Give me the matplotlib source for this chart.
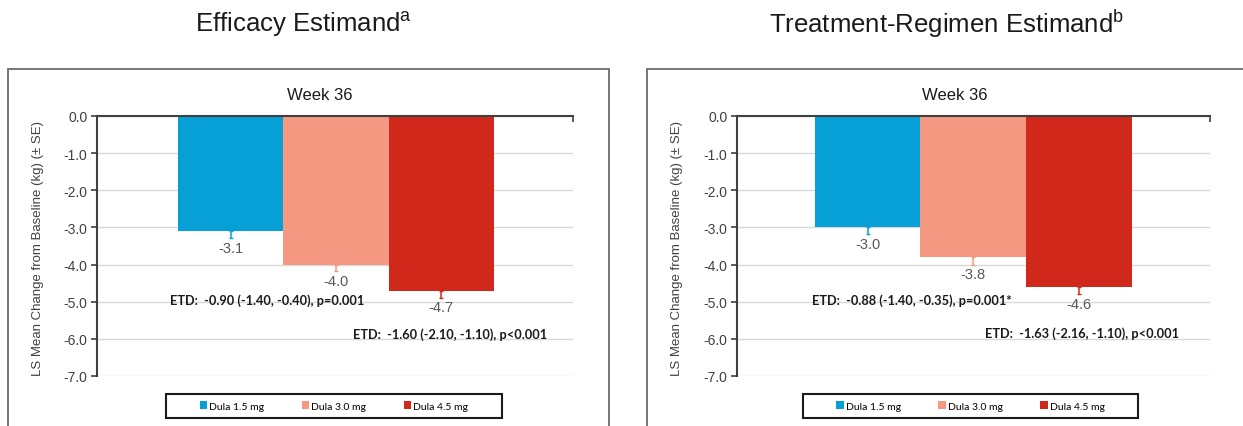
import matplotlib
matplotlib.use("Agg")
import matplotlib.pyplot as plt
from matplotlib.patches import Rectangle, Patch

plt.rcParams['font.family'] = ['Liberation Sans', 'DejaVu Sans']

# data
estimands = ["Efficacy Estimand", "Treatment-Regimen Estimand"]
superscripts = ["a", "b"]
doses = ["Dula 1.5 mg", "Dula 3.0 mg", "Dula 4.5 mg"]
colors = ["#069FD6", "#F59882", "#D0281A"]

eff_means = [-3.1, -4.0, -4.7]
eff_se = [0.19, 0.18, 0.20]
trt_means = [-3.0, -3.8, -4.6]
trt_se = [0.18, 0.20, 0.20]

eff_etd = ["ETD:  -0.90 (-1.40, -0.40), p=0.001", "ETD:  -1.60 (-2.10, -1.10), p<0.001"]
trt_etd = ["ETD:  -0.88 (-1.40, -0.35), p=0.001*", "ETD:  -1.63 (-2.16, -1.10), p<0.001"]

yticks = [0, -1, -2, -3, -4, -5, -6, -7]

W, H = 1243, 427
fig = plt.figure(figsize=(W / 100, H / 100), dpi=100)


def px(x0, y0, x1, y1):
    # pixel box -> figure fraction [left, bottom, width, height]
    return [x0 / W, 1 - y1 / H, (x1 - x0) / W, (y1 - y0) / H]


narrow = ['Lato', 'DejaVu Sans']

panels = [
    dict(means=eff_means, se=eff_se, etd=eff_etd, ax=(97, 117, 573, 377), xlim=(-1.268, 3.25),
         frame=(8, 70, 609, 440), etd_pos=[(-0.575, -4.95), (1.16, -5.87)],
         title_x=303, week_x=320, legend_box=(166, 395, 502, 419), ylab_x=38),
    dict(means=trt_means, se=trt_se, etd=trt_etd, ax=(737, 117, 1210, 377), xlim=(-1.235, 3.24),
         frame=(647, 70, 1260, 440), etd_pos=[(-0.525, -4.95), (1.11, -5.82)],
         title_x=947, week_x=955, legend_box=(803, 395, 1138, 419), ylab_x=677),
]

for i, p in enumerate(panels):
    # outer grey frame
    fx0, fy0, fx1, fy1 = p['frame']
    fig.add_artist(Rectangle((fx0 / W, 1 - fy1 / H), (fx1 - fx0) / W, (fy1 - fy0) / H,
                             transform=fig.transFigure, fill=False, edgecolor="#6b6b6b", lw=1.3))
    fig.text(p['title_x'] / W, 1 - 24 / H, estimands[i] + "$^{\\mathregular{" + superscripts[i] + "}}$",
             ha='center', va='center', fontsize=18.5, color="#1a1a1a")
    fig.text(p['week_x'] / W, 1 - 96 / H, "Week 36", ha='center', va='center', fontsize=12, color="#1a1a1a")

    ax = fig.add_axes(px(*p['ax']))
    xs = list(range(len(doses)))
    ax.bar(xs, p['means'], width=1.0, color=colors, zorder=2)
    for x, m, s, c in zip(xs, p['means'], p['se'], colors):
        ax.errorbar(x, m, yerr=[[s], [0]], fmt='none', ecolor=c, elinewidth=1.1, capsize=1.5, zorder=3)
        ax.annotate(f"{m:.1f}", (x, m), xytext=(0, -12), textcoords='offset points', ha='center',
                    va='center', fontsize=10.5, color="#595959", zorder=4)

    ax.set_ylim(-7, 0)
    ax.set_xlim(*p['xlim'])
    ax.set_yticks(yticks)
    ax.set_yticklabels([f"{t:.1f}" for t in yticks], fontsize=10, color="#404040")
    ax.yaxis.grid(True, color="#d9d9d9", lw=1, zorder=0)
    ax.set_axisbelow(True)
    ax.tick_params(axis='y', length=4, width=1.2, color="#404040", pad=3)
    ax.xaxis.set_ticks_position('top')
    ax.set_xticks(p['xlim'])
    ax.set_xticklabels([])
    ax.tick_params(axis='x', direction='in', length=4, width=1.2, color="#404040")
    for s in ['bottom', 'right']:
        ax.spines[s].set_visible(False)
    ax.spines['left'].set_color("#404040")
    ax.spines['left'].set_linewidth(1.5)
    ax.spines['top'].set_color("#404040")
    ax.spines['top'].set_linewidth(1.5)
    ax.spines['top'].set_zorder(4)

    fig.text(p['ylab_x'] / W, 1 - 248 / H, "LS Mean Change from Baseline (kg) (\u00b1 SE)",
             rotation=90, ha='center', va='center', fontsize=9.5, color="#404040")

    for txt, (tx, ty) in zip(p['etd'], p['etd_pos']):
        ax.text(tx, ty, txt, ha='left', va='center', fontsize=9.2, fontweight='bold',
                family=narrow, color="#1a1a1a", zorder=5)

    # legend with its own box
    lx0, ly0, lx1, ly1 = p['legend_box']
    fig.add_artist(Rectangle((lx0 / W, 1 - ly1 / H), (lx1 - lx0) / W, (ly1 - ly0) / H,
                             transform=fig.transFigure, fill=False, edgecolor="#1a1a1a", lw=1.5))
    handles = [Patch(facecolor=c, edgecolor='none') for c in colors]
    fig.legend(handles, doses, loc='center', bbox_to_anchor=((lx0 + lx1) / 2 / W, 1 - (ly0 + ly1) / 2 / H),
               ncol=3, frameon=False, prop={'family': narrow, 'size': 7.5},
               handlelength=0.7, handleheight=0.7, handletextpad=0.2, columnspacing=3.6)

fig.savefig("out.png", dpi=100)
